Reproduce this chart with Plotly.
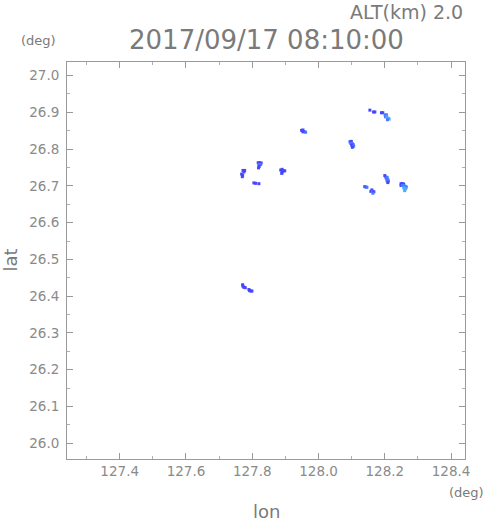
import plotly.graph_objects as go

# Echo cells (lon, lat, intensity class 1..3)
lon = [
    127.772, 127.777, 127.775, 127.768, 127.771, 127.770,
    127.818, 127.823, 127.827, 127.820, 127.825, 127.821, 127.819,
    127.805, 127.810, 127.820,
    127.886, 127.890, 127.894, 127.898, 127.890, 127.889,
    127.949, 127.953, 127.957, 127.961, 127.953,
    128.095, 128.099, 128.097, 128.102, 128.105, 128.100, 128.106, 128.102,
    128.155, 128.166, 128.170,
    128.190, 128.194, 128.201, 128.205, 128.202, 128.206, 128.210, 128.213, 128.208,
    128.200, 128.203, 128.207, 128.205, 128.209, 128.207, 128.211, 128.209,
    128.139, 128.143, 128.146,
    128.161, 128.158, 128.163, 128.167, 128.164,
    128.249, 128.253, 128.257, 128.249, 128.253, 128.257, 128.261, 128.265, 128.263,
    128.257, 128.261, 128.260,
    127.771, 127.772, 127.775, 127.779,
    127.790, 127.792, 127.796, 127.799,
]
lat = [
    26.742, 26.742, 26.738, 26.732, 26.729, 26.725,
    26.763, 26.763, 26.762, 26.758, 26.758, 26.753, 26.749,
    26.708, 26.707, 26.706,
    26.743, 26.745, 26.741, 26.741, 26.737, 26.734,
    26.851, 26.852, 26.848, 26.846, 26.847,
    26.820, 26.821, 26.816, 26.815, 26.812, 26.811, 26.808, 26.805,
    26.906, 26.901, 26.901,
    26.899, 26.899, 26.893, 26.893, 26.888, 26.888, 26.884, 26.882, 26.880,
    26.728, 26.724, 26.723, 26.719, 26.718, 26.714, 26.713, 26.709,
    26.698, 26.697, 26.696,
    26.689, 26.685, 26.685, 26.684, 26.680,
    26.706, 26.706, 26.705, 26.701, 26.701, 26.701, 26.699, 26.697, 26.693,
    26.695, 26.691, 26.687,
    26.431, 26.427, 26.424, 26.423,
    26.418, 26.415, 26.414, 26.414,
]
level = [
    1, 1, 1, 1, 1, 1,
    1, 1, 1, 2, 2, 1, 1,
    1, 1, 1,
    1, 1, 1, 1, 1, 1,
    1, 1, 2, 2, 1,
    1, 1, 2, 2, 2, 1, 2, 1,
    1, 1, 1,
    1, 1, 2, 2, 2, 3, 3, 3, 2,
    1, 1, 2, 2, 2, 2, 2, 1,
    2, 1, 2,
    1, 1, 2, 1, 2,
    1, 1, 1, 1, 2, 2, 2, 2, 3,
    3, 3, 3,
    1, 1, 1, 1,
    1, 1, 1, 1,
]

x_ticks = [127.4, 127.6, 127.8, 128.0, 128.2, 128.4]
y_ticks = [26.0, 26.1, 26.2, 26.3, 26.4, 26.5, 26.6, 26.7, 26.8, 26.9, 27.0]

title_text = "2017/09/17 08:10:00"
alt_text = "ALT(km) 2.0"

level_colors = {1: "#4646ff", 2: "#4a78ff", 3: "#4aaaff"}

fig = go.Figure()
fig.add_trace(go.Scatter(
    x=lon, y=lat, mode="markers",
    marker=dict(symbol="square", size=3,
                color=[level_colors[v] for v in level],
                line=dict(width=0)),
    hoverinfo="skip", showlegend=False,
))

grey = "#8a8a8a"
fnt = "DejaVu Sans"

fig.update_layout(
    width=491, height=521,
    margin=dict(l=67, r=26, t=62, b=62, autoexpand=False),
    paper_bgcolor="white", plot_bgcolor="white",
    font=dict(family=fnt, color=grey),
    xaxis=dict(
        range=[127.241, 128.442], showgrid=False, zeroline=False, automargin=False,
        showline=True, linecolor="#9a9a9a", linewidth=1, mirror="ticks",
        ticks="inside", ticklen=6, tickcolor="#9a9a9a",
        tickvals=x_ticks, ticktext=[f"{v:.1f}" for v in x_ticks],
        tickfont=dict(size=13.5, color=grey, family=fnt),
        minor=dict(dtick=0.1, tick0=127.3, ticks="inside", ticklen=3, tickcolor="#b0b0b0"),
    ),
    yaxis=dict(
        range=[25.957, 27.037], showgrid=False, zeroline=False, automargin=False,
        showline=True, linecolor="#9a9a9a", linewidth=1, mirror="ticks",
        ticks="inside", ticklen=6, tickcolor="#9a9a9a",
        tickvals=y_ticks, ticktext=[f"{v:.1f}" for v in y_ticks],
        tickfont=dict(size=13.5, color=grey, family=fnt),
        ticklabelstandoff=4,
        minor=dict(dtick=0.05, tick0=26.05, ticks="inside", ticklen=3, tickcolor="#b0b0b0"),
    ),
    annotations=[
        dict(text=title_text, xref="paper", yref="paper", x=0.5, y=1.0, yshift=22,
             showarrow=False, xanchor="center", yanchor="middle",
             font=dict(size=26, color="#7a7a7a", family=fnt)),
        dict(text=alt_text, xref="paper", yref="paper", x=1.0, y=1.0, yshift=50, xshift=0,
             showarrow=False, xanchor="right", yanchor="middle",
             font=dict(size=19, color="#7a7a7a", family=fnt)),
        dict(text="(deg)", xref="paper", yref="paper", x=0, y=1.0, xshift=-9, yshift=22,
             showarrow=False, xanchor="right", yanchor="middle",
             font=dict(size=13, color="#7a7a7a", family=fnt)),
        dict(text="(deg)", xref="paper", yref="paper", x=1.0, y=0, xshift=21, yshift=-33,
             showarrow=False, xanchor="right", yanchor="middle",
             font=dict(size=13, color="#7a7a7a", family=fnt)),
        dict(text="lon", xref="paper", yref="paper", x=0.5, y=0, yshift=-52,
             showarrow=False, xanchor="center", yanchor="middle",
             font=dict(size=18, color="#7a7a7a", family=fnt)),
        dict(text="lat", xref="paper", yref="paper", x=0, y=0.5, xshift=-57,
             showarrow=False, xanchor="center", yanchor="middle", textangle=-90,
             font=dict(size=18, color="#7a7a7a", family=fnt)),
    ],
)

fig.write_html("out.html", config={"displayModeBar": False},
               post_script="document.body.style.margin='0';document.body.style.overflow='hidden';")
